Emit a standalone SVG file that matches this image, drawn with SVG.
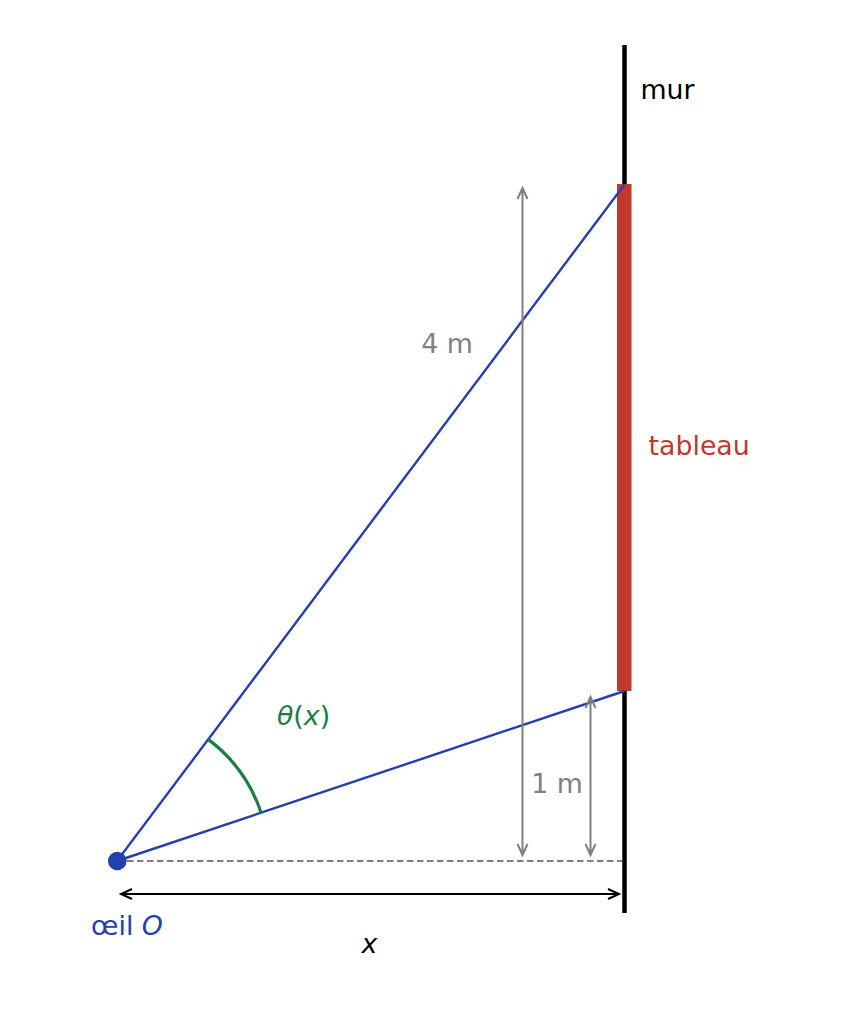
<svg xmlns="http://www.w3.org/2000/svg" width="859" height="1011" viewBox="0 0 859 1011">
<style>
text{font-family:"DejaVu Sans","Liberation Sans",sans-serif;font-size:26.8px}
.grey{stroke:#808080;stroke-width:2;fill:none}
.blk{stroke:#000;stroke-width:2;fill:none}
.ray{stroke:#2240b0;stroke-width:2.4;fill:none}
</style>
<rect width="859" height="1011" fill="#fff"/>
<g id="wall">
<line x1="624.5" y1="45" x2="624.5" y2="913" stroke="#000" stroke-width="4.5"/>
<text x="640.5" y="99" fill="#000">mur</text>
</g>
<g id="tableau">
<rect x="617" y="184" width="14.5" height="507" fill="#c0392b"/>
<text x="648.5" y="455" fill="#c0392b">tableau</text>
</g>
<g id="connectors">
<line class="ray" x1="117" y1="861" x2="624.5" y2="184.5"/>
<line class="ray" x1="117" y1="861" x2="624.5" y2="691"/>
<line x1="117" y1="861" x2="622" y2="861" stroke="#808080" stroke-width="1.8" stroke-dasharray="6.5,3.5"/>
<path class="blk" d="M121,894 H619 M132,889 L121,894 L132,899 M608,889 L619,894 L608,899"/>
<path class="grey" d="M522.5,188 V855 M517.5,199 L522.5,188 L527.5,199 M517.5,844 L522.5,855 L527.5,844"/>
<path class="grey" d="M590.5,697 V855 M585.5,708 L590.5,697 L595.5,708 M585.5,844 L590.5,855 L595.5,844"/>
<path d="M208.2,739.4 A152,152 0 0 1 261.1,812.7" stroke="#168040" stroke-width="3.2" fill="none"/>
</g>
<g id="eye">
<circle cx="117.3" cy="861" r="9.3" fill="#2240b0"/>
<text x="127" y="935" text-anchor="middle" fill="#2240b0">œil <tspan font-style="italic">O</tspan></text>
</g>
<g id="labels">
<text x="447" y="353" text-anchor="middle" fill="#808080">4 m</text>
<text x="557" y="793" text-anchor="middle" fill="#808080">1 m</text>
<text x="303.5" y="725" text-anchor="middle" fill="#168040"><tspan font-style="italic">θ</tspan>(<tspan font-style="italic">x</tspan>)</text>
<text x="369.5" y="953" text-anchor="middle" font-style="italic" fill="#000">x</text>
</g>
</svg>
